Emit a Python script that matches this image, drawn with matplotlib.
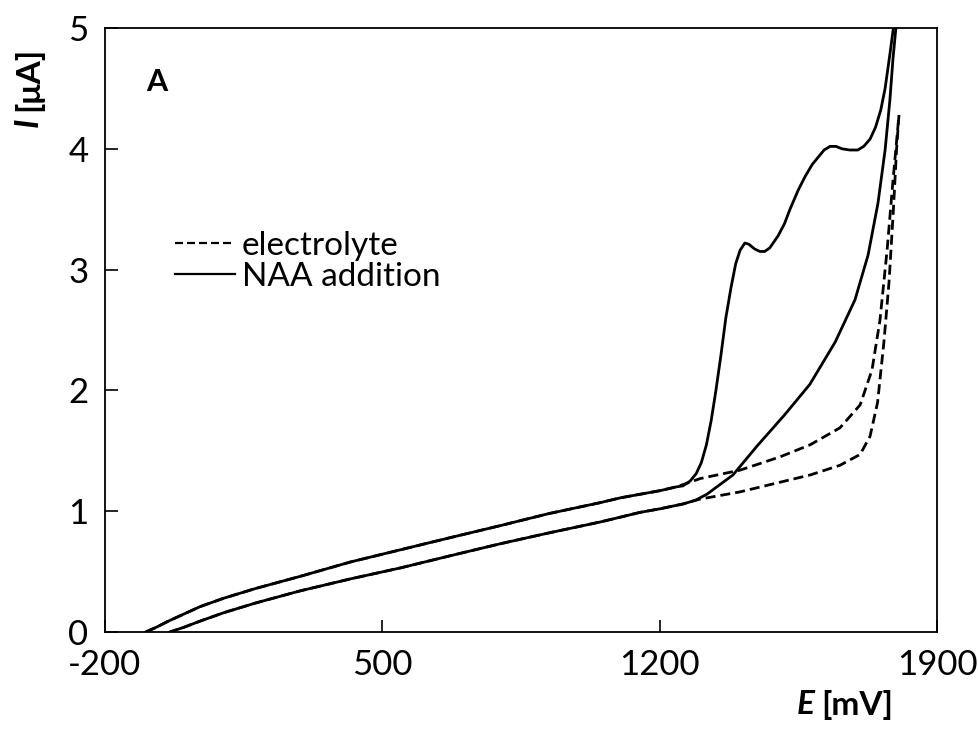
import matplotlib.pyplot as plt

# NAA addition, forward scan (upper branch, with the two oxidation waves)
naa_fwd_E = [-97, -70, -40, 0, 40, 100, 180, 292, 420, 545, 670, 797, 920, 1049, 1100,
             1150, 1201, 1240, 1259, 1277, 1292, 1305, 1318, 1330, 1342, 1355, 1367,
             1380, 1392, 1403, 1415, 1425, 1440, 1453, 1465, 1478, 1499, 1515, 1529,
             1550, 1567, 1585, 1600, 1615, 1630, 1645, 1660, 1680, 1700, 1715, 1731,
             1745, 1758, 1769, 1781, 1794, 1805]
naa_fwd_I = [0.0, 0.04, 0.09, 0.15, 0.21, 0.28, 0.36, 0.46, 0.58, 0.68, 0.78, 0.88, 0.98, 1.07, 1.11,
             1.14, 1.17, 1.20, 1.21, 1.25, 1.31, 1.40, 1.55, 1.75, 2.00, 2.30, 2.60,
             2.85, 3.05, 3.16, 3.22, 3.21, 3.17, 3.15, 3.15, 3.18, 3.28, 3.38, 3.50,
             3.66, 3.77, 3.87, 3.93, 3.99, 4.02, 4.02, 4.00, 3.99, 3.99, 4.02, 4.08,
             4.18, 4.32, 4.50, 4.78, 5.10, 5.3]
# NAA addition, reverse scan (lower branch)
naa_rev_E = [1805, 1789, 1781, 1769, 1751, 1726, 1693, 1643, 1579, 1516, 1446, 1385,
             1352, 1319, 1290, 1259, 1201, 1150, 1100, 1049, 920, 797, 670, 545, 420,
             292, 180, 100, 40, 0, -36]
naa_rev_I = [5.3, 4.75, 4.40, 3.99, 3.55, 3.12, 2.75, 2.40, 2.05, 1.80, 1.54, 1.30,
             1.22, 1.14, 1.09, 1.06, 1.02, 0.99, 0.95, 0.91, 0.82, 0.73, 0.63, 0.53, 0.44,
             0.34, 0.24, 0.16, 0.09, 0.04, 0.0]

# electrolyte only, forward scan
el_fwd_E = [-97, -70, -40, 0, 40, 100, 180, 292, 420, 545, 670, 797, 920, 1049, 1100,
            1150, 1201, 1240, 1259, 1302, 1403, 1504, 1580, 1655, 1706, 1736, 1756,
            1774, 1789, 1804]
el_fwd_I = [0.0, 0.04, 0.09, 0.15, 0.21, 0.28, 0.36, 0.46, 0.58, 0.68, 0.78, 0.88, 0.98, 1.07, 1.11,
            1.14, 1.17, 1.20, 1.22, 1.27, 1.34, 1.45, 1.55, 1.69, 1.88, 2.17, 2.58,
            3.16, 3.74, 4.28]
# electrolyte only, reverse scan
el_rev_E = [1804, 1798, 1790, 1779, 1766, 1750, 1731, 1706, 1655, 1580, 1504, 1403,
            1302, 1290, 1259, 1201, 1150, 1100, 1049, 920, 797, 670, 545, 420, 292,
            180, 100, 40, 0, -36]
el_rev_I = [4.28, 4.00, 3.50, 2.90, 2.40, 1.90, 1.62, 1.47, 1.38, 1.30, 1.24, 1.16,
            1.10, 1.09, 1.06, 1.02, 0.99, 0.95, 0.91, 0.82, 0.73, 0.63, 0.53, 0.44, 0.34,
            0.24, 0.16, 0.09, 0.04, 0.0]

x_ticks = [-200, 500, 1200, 1900]
y_ticks = [0, 1, 2, 3, 4, 5]

plt.rcParams['font.family'] = ['Lato', 'DejaVu Sans']
plt.rcParams['axes.unicode_minus'] = False

fig = plt.figure(figsize=(9.79, 7.29), dpi=100)
ax = fig.add_axes([105 / 979, 1 - 632 / 729, 832 / 979, 604 / 729])

lw = 2.0
dash = (3.6, 1.8)
ax.plot(el_fwd_E, el_fwd_I, color='black', lw=lw, dashes=dash, label='electrolyte')
ax.plot(el_rev_E, el_rev_I, color='black', lw=lw, dashes=dash)
ax.plot(naa_fwd_E, naa_fwd_I, color='black', lw=lw, label='NAA addition')
ax.plot(naa_rev_E, naa_rev_I, color='black', lw=lw)

ax.set_xlim(-200, 1900)
ax.set_ylim(0, 5)
ax.set_xticks(x_ticks)
ax.set_yticks(y_ticks)
ax.tick_params(direction='in', length=9, width=1.2, labelsize=25, pad=12)
for s in ax.spines.values():
    s.set_linewidth(1.3)

ax.text(0.0625, 0.91, 'A', transform=ax.transAxes, fontsize=22, fontweight='bold',
        ha='center', va='center')

leg = ax.legend(loc='upper left', bbox_to_anchor=(0.084, 0.664), frameon=False,
                fontsize=24, handlelength=1.8, handletextpad=0.2, labelspacing=0.02,
                borderpad=0, borderaxespad=0)
for h in leg.get_lines():
    h.set_linewidth(1.6)

# axis titles (italic bold symbol + bold unit)
fig.text(815 / 979, 1 - 705 / 729, 'E', fontsize=24, fontweight='bold', style='italic',
         ha='right', va='center')
fig.text(821 / 979, 1 - 705 / 729, '[mV]', fontsize=24, fontweight='bold',
         ha='left', va='center')
fig.text(28 / 979, 1 - 118 / 729, 'I', fontsize=24, fontweight='bold', style='italic',
         rotation=90, ha='center', va='top')
fig.text(28 / 979, 1 - 111 / 729, '[μA]', fontsize=24, fontweight='bold',
         rotation=90, ha='center', va='bottom')

fig.savefig('out.png', dpi=100)
plt.close(fig)
